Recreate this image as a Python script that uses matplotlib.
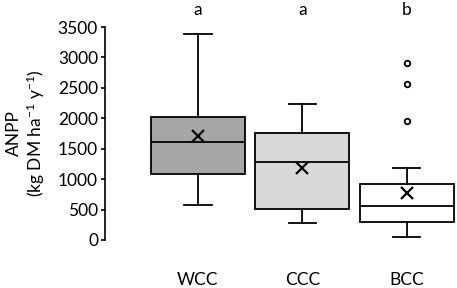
import matplotlib
matplotlib.use("Agg")
import matplotlib.pyplot as plt

plt.rcParams['font.family'] = ['Lato', 'DejaVu Sans']
plt.rcParams['mathtext.fontset'] = 'custom'
plt.rcParams['mathtext.rm'] = 'Lato'
plt.rcParams['mathtext.it'] = 'Lato'
plt.rcParams['axes.unicode_minus'] = False

groups = ['WCC', 'CCC', 'BCC']
letters = ['a', 'a', 'b']
q1 = [1090, 515, 290]
med = [1610, 1277, 555]
q3 = [2026, 1758, 915]
whislo = [570, 280, 50]
whishi = [3380, 2230, 1188]
means = [1709, 1188, 767]
fliers = [[], [], [2903, 2563, 1955]]
colors = ['#a6a6a6', '#d9d9d9', '#ffffff']

stats = []
for i in range(3):
    stats.append(dict(label=groups[i], q1=q1[i], med=med[i], q3=q3[i],
                      whislo=whislo[i], whishi=whishi[i], mean=means[i],
                      fliers=fliers[i]))

fig = plt.figure(figsize=(4.57, 2.88), dpi=100)
ax = fig.add_axes([105/457, 48/288, 352/457, 213/288])

fs = 12.5
lw = 1.3
bp = ax.bxp(stats, positions=[1, 2, 3], widths=0.9, capwidths=0.26,
            showmeans=True, patch_artist=True,
            boxprops=dict(linewidth=lw, edgecolor='black'),
            medianprops=dict(color='black', linewidth=lw),
            whiskerprops=dict(color='black', linewidth=lw),
            capprops=dict(color='black', linewidth=lw),
            meanprops=dict(marker='x', markeredgecolor='black', markersize=8,
                           markeredgewidth=1.6),
            flierprops=dict(marker='o', markerfacecolor='white',
                            markeredgecolor='black', markersize=4,
                            markeredgewidth=1.3))
for patch, c in zip(bp['boxes'], colors):
    patch.set_facecolor(c)

for i, l in enumerate(letters):
    ax.text(i + 1, 3780, l, ha='center', va='center', fontsize=fs, clip_on=False)

ax.set_xlim(0.11, 3.48)
ax.set_ylim(0, 3500)
ax.set_yticks(range(0, 3501, 500))
ax.set_xticks([1, 2, 3])
ax.set_xticklabels(groups)
ax.tick_params(axis='x', length=0, pad=23, labelsize=fs)
ax.tick_params(axis='y', length=3, width=1.2, pad=2, labelsize=fs)
for s in ['top', 'right', 'bottom']:
    ax.spines[s].set_visible(False)
ax.spines['left'].set_linewidth(1.2)
ax.set_ylabel('ANPP\n(kg DM ha$^{-1}$ y$^{-1}$)', fontsize=fs, linespacing=1.15,
              labelpad=8)

fig.savefig('out.png', dpi=100)
